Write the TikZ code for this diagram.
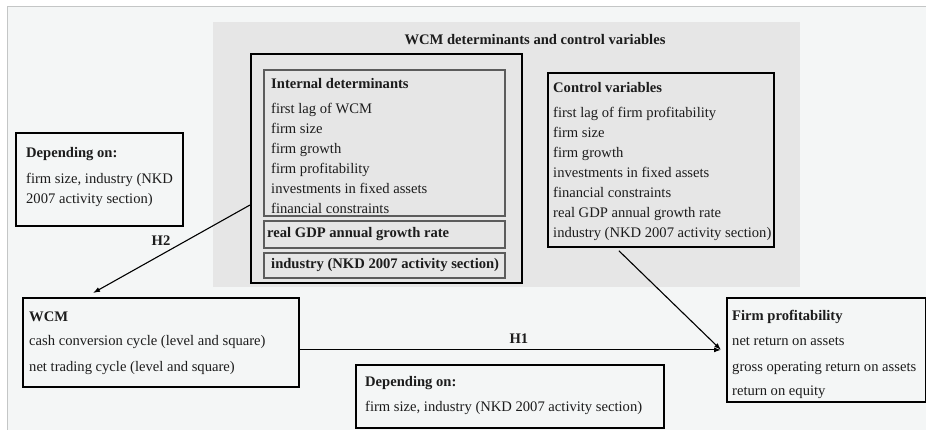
\documentclass[tikz,border=0pt]{standalone}
\usepackage{fontspec}
\setmainfont{Liberation Serif}
\usetikzlibrary{arrows.meta,positioning}

\definecolor{pagebg}{HTML}{F4F6F6}
\definecolor{framegray}{HTML}{C4C6C6}
\definecolor{regionbg}{HTML}{E6E6E6}
\definecolor{ingray}{HTML}{5C5C5C}
\definecolor{inkcol}{HTML}{1C1C1C}

\begin{document}
\begin{tikzpicture}[x=1pt,y=-1pt,font=\fontsize{14.6}{20}\selectfont,
    box/.style={draw=black,line width=1.8pt,anchor=north west,inner sep=0pt},
    inbox/.style={draw=ingray,line width=1.8pt,anchor=north west,inner sep=0pt},
    lines/.style={anchor=north west,inner sep=0pt,align=left,text=inkcol},
    hyp/.style={inner sep=0pt,text=inkcol,font=\fontsize{14.6}{20}\selectfont\bfseries},
    link/.style={-{Latex[length=7pt,width=5pt]},line width=1.1pt}]
  \useasboundingbox (0,0) rectangle (926,430);
  \fill[white] (0,0) rectangle (926,430);
  \fill[pagebg] (7,7) rectangle (926,430);
  \draw[framegray,line width=1pt] (7,430) -- (7,7) -- (926,7);
  \fill[regionbg] (213,22) rectangle (800,287);

  \node[hyp] (title) at (535,40) {WCM determinants and control variables};

  % boxes
  \node[box,minimum width=271pt,minimum height=229pt] (det) at (250,53) {};
  \node[inbox,minimum width=241pt,minimum height=146pt] (intdet) at (263,69) {};
  \node[inbox,minimum width=241pt,minimum height=27pt] (gdp) at (263,220) {};
  \node[inbox,minimum width=241pt,minimum height=25pt] (ind) at (263,252) {};
  \node[box,minimum width=226pt,minimum height=174pt] (ctrl) at (547,72) {};
  \node[box,minimum width=167pt,minimum height=93pt] (depa) at (15,132) {};
  \node[box,minimum width=276pt,minimum height=89pt] (wcm) at (22,297) {};
  \node[box,minimum width=308pt,minimum height=63pt] (depb) at (355,364) {};
  \node[box,minimum width=199pt,minimum height=104pt] (firm) at (726,297) {};

  % texts
  \node[lines] (intdettext) at ([xshift=8pt,yshift=-9pt]intdet.north west)
    {\textbf{Internal determinants}\\[5pt] first lag of WCM\\ firm size\\ firm growth\\
     firm profitability\\ investments in fixed assets\\ financial constraints};
  \node[lines,anchor=west] (gdptext) at ([xshift=4pt]gdp.west) {\textbf{real GDP annual growth rate}};
  \node[lines,anchor=west] (indtext) at ([xshift=8pt]ind.west) {\textbf{industry (NKD 2007 activity section)}};
  \node[lines] (ctrltext) at ([xshift=6pt,yshift=-10pt]ctrl.north west)
    {\textbf{Control variables}\\[5pt] first lag of firm profitability\\ firm size\\ firm growth\\
     investments in fixed assets\\ financial constraints\\ real GDP annual growth rate\\
     industry (NKD 2007 activity section)};
  \node[lines] (depatext) at ([xshift=11pt,yshift=-15pt]depa.north west)
    {\textbf{Depending on:}\\[6pt] firm size, industry (NKD\\ 2007 activity section)};
  \node[lines] (wcmtext) at ([xshift=7pt,yshift=-15pt]wcm.north west)
    {\textbf{WCM}\\[4pt] cash conversion cycle (level and square)\\[6pt] net trading cycle (level and square)};
  \node[lines] (depbtext) at ([xshift=10pt,yshift=-12pt]depb.north west)
    {\textbf{Depending on:}\\[5pt] firm size, industry (NKD 2007 activity section)};
  \node[lines] (firmtext) at ([xshift=6pt,yshift=-13pt]firm.north west)
    {\textbf{Firm profitability}\\[5pt] net return on assets\\[6pt] gross operating return on assets\\[4pt] return on equity};

  % hypotheses
  \coordinate (firmin) at ([xshift=-5pt]firm.west);
  \draw[link] (wcm.east |- firmin) -- node[hyp,pos=0.52,above=6pt] (hone) {H1} (firmin);
  \draw[link] ([xshift=-42pt,yshift=-3pt]ctrl.south) -- (firmin);
  \draw[link] ([yshift=-152pt]det.north west) -- node[hyp,pos=0.567,above=9pt] (htwo) {H2} ([xshift=71pt,yshift=4pt]wcm.north west);
\end{tikzpicture}
\end{document}
